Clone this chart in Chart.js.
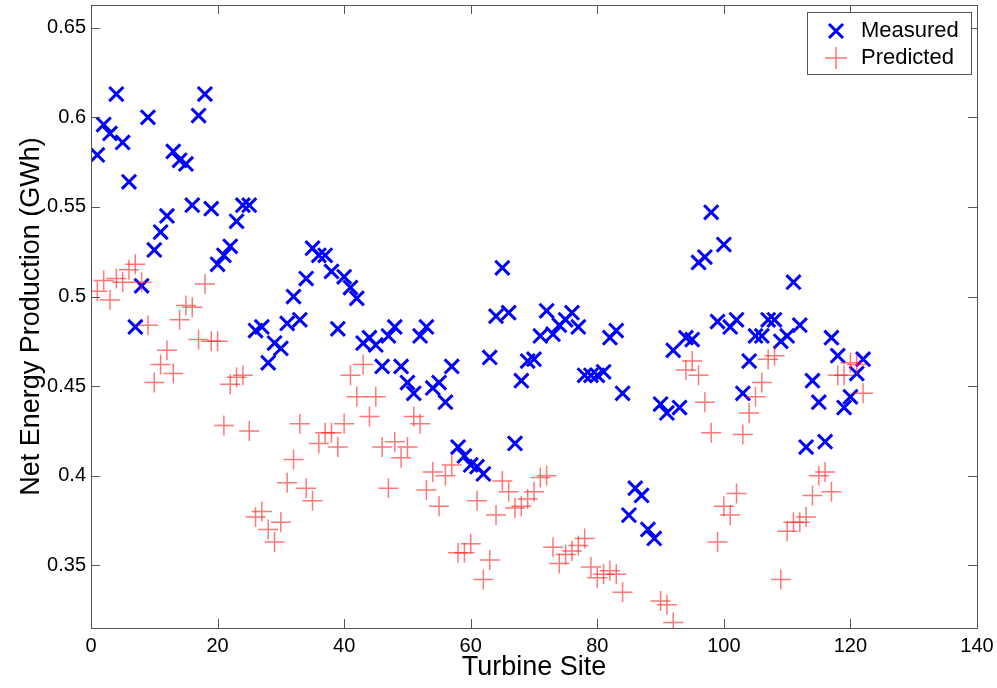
<!DOCTYPE html>
<html>
<head>
<meta charset="utf-8">
<script src="https://cdn.jsdelivr.net/npm/chart.js@4/dist/chart.umd.min.js"></script>
<style>
  html, body { margin: 0; padding: 0; background: #fff; }
  #wrap { width: 997px; height: 688px; }
</style>
</head>
<body>
<div id="wrap"><canvas id="chart"></canvas></div>
<script>
// turbine sites 1..122
const sites = Array.from({ length: 122 }, (_, i) => i + 1);

const measured = [
    0.579, 0.596, 0.591, 0.613, 0.586, 0.564, 0.483, 0.506, 0.600, 0.526,
    0.536, 0.545, 0.581, 0.576, 0.574, 0.551, 0.601, 0.613, 0.549, 0.518,
    0.523, 0.528, 0.542, 0.551, 0.551, 0.481, 0.483, 0.463, 0.474, 0.471,
    0.485, 0.500, 0.487, 0.510, 0.527, 0.523, 0.523, 0.514, 0.482, 0.511,
    0.505, 0.499, 0.474, 0.477, 0.473, 0.461, 0.478, 0.483, 0.461, 0.452,
    0.446, 0.478, 0.483, 0.449, 0.452, 0.441, 0.461, 0.416, 0.411, 0.406,
    0.405, 0.401, 0.466, 0.489, 0.516, 0.491, 0.418, 0.453, 0.464, 0.465,
    0.478, 0.492, 0.479, 0.484, 0.487, 0.491, 0.483, 0.456, 0.456, 0.456,
    0.458, 0.477, 0.481, 0.446, 0.378, 0.393, 0.389, 0.370, 0.365, 0.440,
    0.435, 0.470, 0.438, 0.477, 0.476, 0.519, 0.522, 0.547, 0.486, 0.529,
    0.483, 0.487, 0.446, 0.464, 0.478, 0.478, 0.487, 0.487, 0.475, 0.478,
    0.508, 0.484, 0.416, 0.453, 0.441, 0.419, 0.477, 0.467, 0.438, 0.444,
    0.457, 0.465
];

// null = not visible inside the axes
const predicted = [
    0.503, 0.509, 0.498, 0.510, 0.508, 0.515, 0.518, 0.508, 0.484, 0.452,
    0.462, 0.470, 0.457, 0.487, 0.495, 0.494, 0.476, 0.507, 0.475, 0.475,
    0.428, 0.451, 0.455, 0.456, 0.425, 0.377, 0.380, 0.370, 0.363, 0.374,
    0.396, 0.409, 0.429, 0.393, 0.386, 0.418, 0.424, 0.424, 0.416, 0.429,
    0.456, 0.444, 0.462, 0.433, 0.444, 0.416, 0.393, 0.419, 0.410, 0.416,
    0.433, 0.429, 0.392, 0.402, 0.383, 0.400, 0.406, 0.357, 0.357, 0.362,
    0.386, 0.342, 0.353, 0.378, 0.397, 0.391, 0.382, 0.383, 0.387, 0.391,
    0.399, 0.400, 0.360, 0.351, 0.356, 0.358, 0.361, 0.365, 0.349, 0.343,
    0.345, 0.347, 0.345, 0.335, null, null, null, null, null, 0.330,
    0.328, 0.318, null, 0.459, 0.464, 0.456, 0.441, 0.424, 0.363, 0.383,
    0.378, 0.390, 0.423, 0.435, 0.444, 0.452, 0.465, 0.467, 0.342, 0.369,
    0.374, 0.374, 0.377, 0.389, 0.400, 0.402, 0.391, 0.456, 0.456, 0.463,
    0.462, 0.446
];

const xTicks = [0, 20, 40, 60, 80, 100, 120, 140];
const yTicks = [0.35, 0.4, 0.45, 0.5, 0.55, 0.6, 0.65];
const legendLabels = ['Measured', 'Predicted'];

const blue = '#0000ff';
const red = 'rgba(255, 30, 30, 0.6)';
const axisColor = '#555';
const fontFamily = '"Liberation Sans", Arial, sans-serif';

// MATLAB style box with inward ticks on all four sides
const boxTicks = {
    id: 'boxTicks',
    afterDraw(chart) {
        const { ctx, chartArea: a, scales } = chart;
        const len = 9;
        ctx.save();
        ctx.strokeStyle = axisColor;
        ctx.lineWidth = 1;
        ctx.strokeRect(Math.round(a.left) + 0.5, Math.round(a.top) + 0.5,
            Math.round(a.right - a.left), Math.round(a.bottom - a.top));
        ctx.beginPath();
        xTicks.forEach(v => {
            const x = Math.round(scales.x.getPixelForValue(v)) + 0.5;
            ctx.moveTo(x, a.bottom); ctx.lineTo(x, a.bottom - len);
            ctx.moveTo(x, a.top); ctx.lineTo(x, a.top + len);
        });
        yTicks.forEach(v => {
            const y = Math.round(scales.y.getPixelForValue(v)) + 0.5;
            ctx.moveTo(a.left, y); ctx.lineTo(a.left + len, y);
            ctx.moveTo(a.right, y); ctx.lineTo(a.right - len, y);
        });
        ctx.stroke();

        // legend box in the top right corner
        const lx = 807.5, ly = 12.5, lw = 164, lh = 62;
        ctx.fillStyle = '#fff';
        ctx.fillRect(lx, ly, lw, lh);
        ctx.strokeRect(lx, ly, lw, lh);
        // X marker
        ctx.strokeStyle = blue;
        ctx.lineWidth = 3;
        ctx.beginPath();
        ctx.moveTo(829, 24); ctx.lineTo(843, 38);
        ctx.moveTo(843, 24); ctx.lineTo(829, 38);
        ctx.stroke();
        // + marker
        ctx.strokeStyle = red;
        ctx.lineWidth = 1.5;
        ctx.beginPath();
        ctx.moveTo(825, 58); ctx.lineTo(847, 58);
        ctx.moveTo(836, 47); ctx.lineTo(836, 69);
        ctx.stroke();
        ctx.fillStyle = '#000';
        ctx.font = '22px ' + fontFamily;
        ctx.textBaseline = 'middle';
        ctx.textAlign = 'left';
        ctx.fillText(legendLabels[0], 861, 31);
        ctx.fillText(legendLabels[1], 861, 58);
        ctx.restore();
    }
};

const ctx = document.getElementById('chart');
const chart = new Chart(ctx, {
    type: 'scatter',
    data: {
        datasets: [
            {
                label: legendLabels[0],
                data: sites.map((s, i) => ({ x: s, y: measured[i] })),
                pointStyle: 'crossRot',
                pointRadius: 10,
                pointBorderWidth: 3,
                borderColor: blue,
                backgroundColor: blue,
                order: 1,
            },
            {
                label: legendLabels[1],
                data: sites.map((s, i) => ({ x: s, y: predicted[i] })),
                pointStyle: 'cross',
                pointRadius: 10,
                pointBorderWidth: 1.5,
                borderColor: red,
                backgroundColor: red,
                order: 0,
            },
        ]
    },
    options: {
        responsive: true,
        maintainAspectRatio: false,
        animation: false,
        events: [],
        layout: {
            autoPadding: false,
            padding: { top: 5, right: 20, left: 0, bottom: 0 },
        },
        scales: {
            x: {
                type: 'linear',
                min: 0,
                max: 140,
                afterFit: scale => {
                    scale.height = 60;
                    scale.paddingLeft = 0;
                    scale.paddingRight = 0;
                },
                afterBuildTicks: scale => { scale.ticks = xTicks.map(v => ({ value: v })); },
                grid: { display: false, drawTicks: false },
                border: { display: false },
                ticks: {
                    color: '#000',
                    padding: 6,
                    maxRotation: 0,
                    font: { family: fontFamily, size: 20 },
                },
                title: {
                    display: true,
                    text: 'Turbine Site',
                    color: '#000',
                    padding: { top: 0, bottom: 4 },
                    font: { family: fontFamily, size: 27 },
                },
            },
            y: {
                min: 0.315,
                max: 0.6627,
                afterFit: scale => {
                    scale.width = 91;
                    scale.paddingTop = 0;
                    scale.paddingBottom = 0;
                },
                afterBuildTicks: scale => { scale.ticks = yTicks.map(v => ({ value: v })); },
                grid: { display: false, drawTicks: false },
                border: { display: false },
                ticks: {
                    color: '#000',
                    padding: 5,
                    callback: v => String(v),
                    font: { family: fontFamily, size: 20 },
                },
                title: {
                    display: true,
                    text: 'Net Energy Production (GWh)',
                    color: '#000',
                    padding: { top: 15, bottom: 0 },
                    font: { family: fontFamily, size: 27 },
                },
            },
        },
        plugins: {
            legend: { display: false },
            tooltip: { enabled: false },
        },
    },
    plugins: [boxTicks],
});
</script>
</body>
</html>
